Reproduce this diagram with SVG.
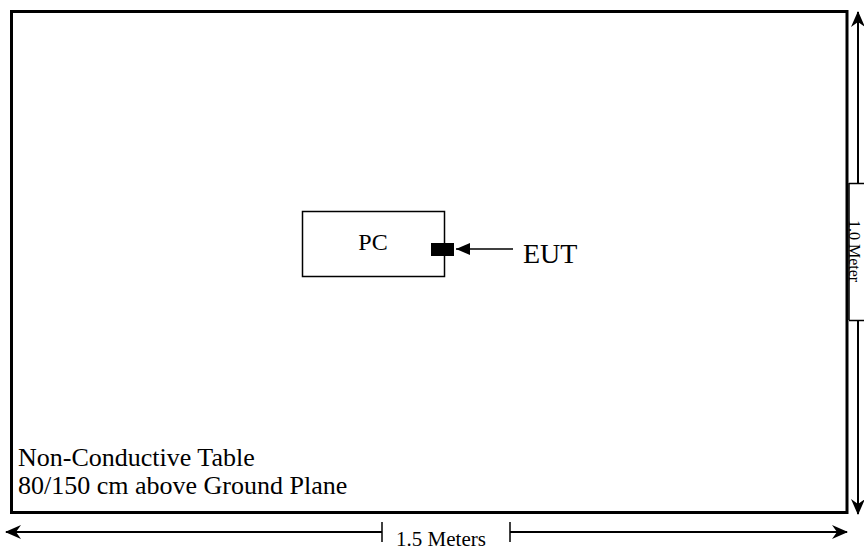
<svg xmlns="http://www.w3.org/2000/svg" width="864" height="550" viewBox="0 0 864 550">
<style>
text{font-family:"Liberation Serif","Times New Roman",serif;fill:#000}
.thin{stroke:#000;stroke-width:1.5;fill:none}
.dim{stroke:#000;stroke-width:2;fill:none}
</style>
<defs>
<marker id="stealth" viewBox="0 0 16 14" refX="15" refY="7" markerWidth="16" markerHeight="14" markerUnits="userSpaceOnUse" orient="auto-start-reverse">
<path d="M0,0 L16,7 L0,14 L5,7 Z" fill="#000"/>
</marker>
<marker id="tri" viewBox="0 0 14 12" refX="14" refY="6" markerWidth="14" markerHeight="12" markerUnits="userSpaceOnUse" orient="auto">
<path d="M0,0 L14,6 L0,12 Z" fill="#000"/>
</marker>
</defs>
<rect width="864" height="550" fill="#fff"/>
<g id="table">
<rect x="11.5" y="11.5" width="835.5" height="501" fill="#fff" stroke="#000" stroke-width="3"/>
<text x="18" y="466" font-size="26" font-family="Liberation Serif, serif">Non-Conductive Table</text>
<text x="18" y="494" font-size="26" font-family="Liberation Serif, serif">80/150 cm above Ground Plane</text>
</g>
<g id="pc">
<rect x="302.5" y="211.5" width="142" height="65" class="thin"/>
<text x="373" y="250" font-size="24" text-anchor="middle" font-family="Liberation Serif, serif">PC</text>
</g>
<g id="eut">
<rect x="431" y="243" width="23" height="13" fill="#000"/>
<text x="523" y="263" font-size="28" font-family="Liberation Serif, serif">EUT</text>
</g>
<g id="dim-width">
<text x="441" y="546" font-size="21" text-anchor="middle" font-family="Liberation Serif, serif">1.5 Meters</text>
</g>
<g id="dim-height">
<path d="M849,183.5 H864 M849,183 V320 M849,320.5 H864" class="thin"/>
<text transform="translate(848.5,251) rotate(90)" font-size="16" text-anchor="middle" font-family="Liberation Serif, serif">1.0 Meter</text>
</g>
<g id="connectors">
<line x1="513" y1="249" x2="456" y2="249" class="thin" marker-end="url(#tri)"/>
<line x1="382" y1="532" x2="6" y2="532" class="dim" marker-end="url(#stealth)"/>
<line x1="382" y1="522" x2="382" y2="542" class="thin"/>
<line x1="510" y1="532" x2="847" y2="532" class="dim" marker-end="url(#stealth)"/>
<line x1="510" y1="522" x2="510" y2="542" class="thin"/>
<line x1="858" y1="183" x2="858" y2="12" class="dim" marker-end="url(#stealth)"/>
<line x1="858" y1="320" x2="858" y2="514" class="dim" marker-end="url(#stealth)"/>
</g>
</svg>
